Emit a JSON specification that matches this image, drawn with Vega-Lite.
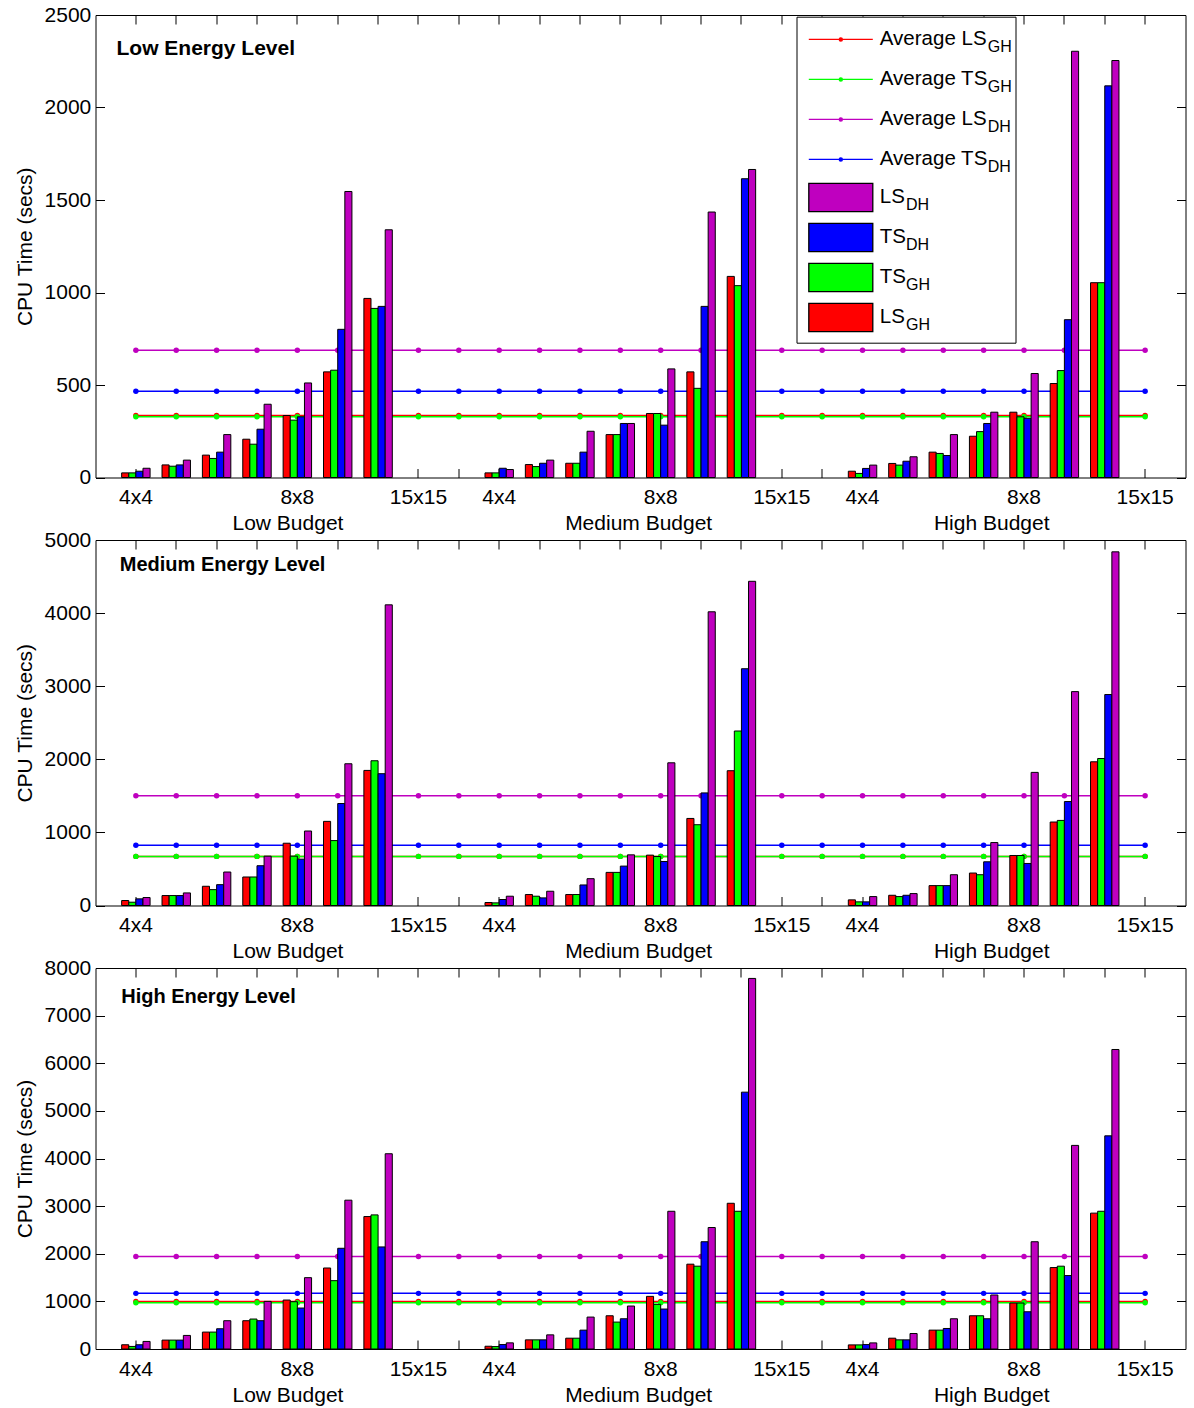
{
"$schema": "https://vega.github.io/schema/vega-lite/v6.json",
"padding": {"left": 13.5, "top": 3, "right": 5, "bottom": 5},
"background": "white",
"config": {"font": "Liberation Sans", "view": {"stroke": "black", "strokeWidth": 1}, "axis": {"grid": false, "domain": false}},
"spacing": 62,
"bounds": "flush",
"resolve": {"scale": {"color": "independent", "shape": "independent", "fill": "independent", "stroke": "independent", "strokeDash": "independent"}, "legend": {"color": "independent", "shape": "independent", "fill": "independent", "stroke": "independent", "strokeDash": "independent"}},
"datasets": {
"bars": [
{"level":"Low","pos":1,"series":"LS_GH","secs":25},{"level":"Low","pos":1,"series":"TS_GH","secs":25},{"level":"Low","pos":1,"series":"TS_DH","secs":34},{"level":"Low","pos":1,"series":"LS_DH","secs":50},
{"level":"Low","pos":2,"series":"LS_GH","secs":68},{"level":"Low","pos":2,"series":"TS_GH","secs":61},{"level":"Low","pos":2,"series":"TS_DH","secs":68},{"level":"Low","pos":2,"series":"LS_DH","secs":94},
{"level":"Low","pos":3,"series":"LS_GH","secs":121},{"level":"Low","pos":3,"series":"TS_GH","secs":103},{"level":"Low","pos":3,"series":"TS_DH","secs":137},{"level":"Low","pos":3,"series":"LS_DH","secs":232},
{"level":"Low","pos":4,"series":"LS_GH","secs":207},{"level":"Low","pos":4,"series":"TS_GH","secs":180},{"level":"Low","pos":4,"series":"TS_DH","secs":261},{"level":"Low","pos":4,"series":"LS_DH","secs":396},
{"level":"Low","pos":5,"series":"LS_GH","secs":335},{"level":"Low","pos":5,"series":"TS_GH","secs":310},{"level":"Low","pos":5,"series":"TS_DH","secs":328},{"level":"Low","pos":5,"series":"LS_DH","secs":511},
{"level":"Low","pos":6,"series":"LS_GH","secs":571},{"level":"Low","pos":6,"series":"TS_GH","secs":580},{"level":"Low","pos":6,"series":"TS_DH","secs":801},{"level":"Low","pos":6,"series":"LS_DH","secs":1546},
{"level":"Low","pos":7,"series":"LS_GH","secs":968},{"level":"Low","pos":7,"series":"TS_GH","secs":914},{"level":"Low","pos":7,"series":"TS_DH","secs":925},{"level":"Low","pos":7,"series":"LS_DH","secs":1339},
{"level":"Low","pos":10,"series":"LS_GH","secs":25},{"level":"Low","pos":10,"series":"TS_GH","secs":25},{"level":"Low","pos":10,"series":"TS_DH","secs":50},{"level":"Low","pos":10,"series":"LS_DH","secs":43},
{"level":"Low","pos":11,"series":"LS_GH","secs":70},{"level":"Low","pos":11,"series":"TS_GH","secs":59},{"level":"Low","pos":11,"series":"TS_DH","secs":77},{"level":"Low","pos":11,"series":"LS_DH","secs":94},
{"level":"Low","pos":12,"series":"LS_GH","secs":77},{"level":"Low","pos":12,"series":"TS_GH","secs":77},{"level":"Low","pos":12,"series":"TS_DH","secs":137},{"level":"Low","pos":12,"series":"LS_DH","secs":250},
{"level":"Low","pos":13,"series":"LS_GH","secs":232},{"level":"Low","pos":13,"series":"TS_GH","secs":232},{"level":"Low","pos":13,"series":"TS_DH","secs":292},{"level":"Low","pos":13,"series":"LS_DH","secs":292},
{"level":"Low","pos":14,"series":"LS_GH","secs":346},{"level":"Low","pos":14,"series":"TS_GH","secs":346},{"level":"Low","pos":14,"series":"TS_DH","secs":283},{"level":"Low","pos":14,"series":"LS_DH","secs":587},
{"level":"Low","pos":15,"series":"LS_GH","secs":571},{"level":"Low","pos":15,"series":"TS_GH","secs":482},{"level":"Low","pos":15,"series":"TS_DH","secs":925},{"level":"Low","pos":15,"series":"LS_DH","secs":1435},
{"level":"Low","pos":16,"series":"LS_GH","secs":1087},{"level":"Low","pos":16,"series":"TS_GH","secs":1037},{"level":"Low","pos":16,"series":"TS_DH","secs":1615},{"level":"Low","pos":16,"series":"LS_DH","secs":1665},
{"level":"Low","pos":19,"series":"LS_GH","secs":34},{"level":"Low","pos":19,"series":"TS_GH","secs":22},{"level":"Low","pos":19,"series":"TS_DH","secs":49},{"level":"Low","pos":19,"series":"LS_DH","secs":67},
{"level":"Low","pos":20,"series":"LS_GH","secs":76},{"level":"Low","pos":20,"series":"TS_GH","secs":67},{"level":"Low","pos":20,"series":"TS_DH","secs":88},{"level":"Low","pos":20,"series":"LS_DH","secs":112},
{"level":"Low","pos":21,"series":"LS_GH","secs":137},{"level":"Low","pos":21,"series":"TS_GH","secs":130},{"level":"Low","pos":21,"series":"TS_DH","secs":119},{"level":"Low","pos":21,"series":"LS_DH","secs":232},
{"level":"Low","pos":22,"series":"LS_GH","secs":223},{"level":"Low","pos":22,"series":"TS_GH","secs":248},{"level":"Low","pos":22,"series":"TS_DH","secs":292},{"level":"Low","pos":22,"series":"LS_DH","secs":353},
{"level":"Low","pos":23,"series":"LS_GH","secs":353},{"level":"Low","pos":23,"series":"TS_GH","secs":328},{"level":"Low","pos":23,"series":"TS_DH","secs":320},{"level":"Low","pos":23,"series":"LS_DH","secs":562},
{"level":"Low","pos":24,"series":"LS_GH","secs":508},{"level":"Low","pos":24,"series":"TS_GH","secs":578},{"level":"Low","pos":24,"series":"TS_DH","secs":853},{"level":"Low","pos":24,"series":"LS_DH","secs":2304},
{"level":"Low","pos":25,"series":"LS_GH","secs":1053},{"level":"Low","pos":25,"series":"TS_GH","secs":1053},{"level":"Low","pos":25,"series":"TS_DH","secs":2117},{"level":"Low","pos":25,"series":"LS_DH","secs":2254},
{"level":"Medium","pos":1,"series":"LS_GH","secs":68},{"level":"Medium","pos":1,"series":"TS_GH","secs":45},{"level":"Medium","pos":1,"series":"TS_DH","secs":91},{"level":"Medium","pos":1,"series":"LS_DH","secs":109},
{"level":"Medium","pos":2,"series":"LS_GH","secs":136},{"level":"Medium","pos":2,"series":"TS_GH","secs":136},{"level":"Medium","pos":2,"series":"TS_DH","secs":136},{"level":"Medium","pos":2,"series":"LS_DH","secs":172},
{"level":"Medium","pos":3,"series":"LS_GH","secs":263},{"level":"Medium","pos":3,"series":"TS_GH","secs":217},{"level":"Medium","pos":3,"series":"TS_DH","secs":285},{"level":"Medium","pos":3,"series":"LS_DH","secs":458},
{"level":"Medium","pos":4,"series":"LS_GH","secs":390},{"level":"Medium","pos":4,"series":"TS_GH","secs":390},{"level":"Medium","pos":4,"series":"TS_DH","secs":544},{"level":"Medium","pos":4,"series":"LS_DH","secs":675},
{"level":"Medium","pos":5,"series":"LS_GH","secs":852},{"level":"Medium","pos":5,"series":"TS_GH","secs":675},{"level":"Medium","pos":5,"series":"TS_DH","secs":634},{"level":"Medium","pos":5,"series":"LS_DH","secs":1019},
{"level":"Medium","pos":6,"series":"LS_GH","secs":1151},{"level":"Medium","pos":6,"series":"TS_GH","secs":888},{"level":"Medium","pos":6,"series":"TS_DH","secs":1395},{"level":"Medium","pos":6,"series":"LS_DH","secs":1939},
{"level":"Medium","pos":7,"series":"LS_GH","secs":1848},{"level":"Medium","pos":7,"series":"TS_GH","secs":1980},{"level":"Medium","pos":7,"series":"TS_DH","secs":1803},{"level":"Medium","pos":7,"series":"LS_DH","secs":4113},
{"level":"Medium","pos":10,"series":"LS_GH","secs":41},{"level":"Medium","pos":10,"series":"TS_GH","secs":36},{"level":"Medium","pos":10,"series":"TS_DH","secs":82},{"level":"Medium","pos":10,"series":"LS_DH","secs":127},
{"level":"Medium","pos":11,"series":"LS_GH","secs":150},{"level":"Medium","pos":11,"series":"TS_GH","secs":127},{"level":"Medium","pos":11,"series":"TS_DH","secs":104},{"level":"Medium","pos":11,"series":"LS_DH","secs":195},
{"level":"Medium","pos":12,"series":"LS_GH","secs":150},{"level":"Medium","pos":12,"series":"TS_GH","secs":150},{"level":"Medium","pos":12,"series":"TS_DH","secs":281},{"level":"Medium","pos":12,"series":"LS_DH","secs":367},
{"level":"Medium","pos":13,"series":"LS_GH","secs":453},{"level":"Medium","pos":13,"series":"TS_GH","secs":453},{"level":"Medium","pos":13,"series":"TS_DH","secs":539},{"level":"Medium","pos":13,"series":"LS_DH","secs":693},
{"level":"Medium","pos":14,"series":"LS_GH","secs":689},{"level":"Medium","pos":14,"series":"TS_GH","secs":670},{"level":"Medium","pos":14,"series":"TS_DH","secs":602},{"level":"Medium","pos":14,"series":"LS_DH","secs":1952},
{"level":"Medium","pos":15,"series":"LS_GH","secs":1191},{"level":"Medium","pos":15,"series":"TS_GH","secs":1105},{"level":"Medium","pos":15,"series":"TS_DH","secs":1540},{"level":"Medium","pos":15,"series":"LS_DH","secs":4018},
{"level":"Medium","pos":16,"series":"LS_GH","secs":1844},{"level":"Medium","pos":16,"series":"TS_GH","secs":2387},{"level":"Medium","pos":16,"series":"TS_DH","secs":3239},{"level":"Medium","pos":16,"series":"LS_DH","secs":4435},
{"level":"Medium","pos":19,"series":"LS_GH","secs":77},{"level":"Medium","pos":19,"series":"TS_GH","secs":50},{"level":"Medium","pos":19,"series":"TS_DH","secs":50},{"level":"Medium","pos":19,"series":"LS_DH","secs":122},
{"level":"Medium","pos":20,"series":"LS_GH","secs":140},{"level":"Medium","pos":20,"series":"TS_GH","secs":122},{"level":"Medium","pos":20,"series":"TS_DH","secs":140},{"level":"Medium","pos":20,"series":"LS_DH","secs":163},
{"level":"Medium","pos":21,"series":"LS_GH","secs":272},{"level":"Medium","pos":21,"series":"TS_GH","secs":272},{"level":"Medium","pos":21,"series":"TS_DH","secs":272},{"level":"Medium","pos":21,"series":"LS_DH","secs":421},
{"level":"Medium","pos":22,"series":"LS_GH","secs":444},{"level":"Medium","pos":22,"series":"TS_GH","secs":421},{"level":"Medium","pos":22,"series":"TS_DH","secs":598},{"level":"Medium","pos":22,"series":"LS_DH","secs":861},
{"level":"Medium","pos":23,"series":"LS_GH","secs":684},{"level":"Medium","pos":23,"series":"TS_GH","secs":684},{"level":"Medium","pos":23,"series":"TS_DH","secs":575},{"level":"Medium","pos":23,"series":"LS_DH","secs":1821},
{"level":"Medium","pos":24,"series":"LS_GH","secs":1142},{"level":"Medium","pos":24,"series":"TS_GH","secs":1164},{"level":"Medium","pos":24,"series":"TS_DH","secs":1422},{"level":"Medium","pos":24,"series":"LS_DH","secs":2926},
{"level":"Medium","pos":25,"series":"LS_GH","secs":1966},{"level":"Medium","pos":25,"series":"TS_GH","secs":2011},{"level":"Medium","pos":25,"series":"TS_DH","secs":2886},{"level":"Medium","pos":25,"series":"LS_DH","secs":4838},
{"level":"High","pos":1,"series":"LS_GH","secs":89},{"level":"High","pos":1,"series":"TS_GH","secs":54},{"level":"High","pos":1,"series":"TS_DH","secs":89},{"level":"High","pos":1,"series":"LS_DH","secs":159},
{"level":"High","pos":2,"series":"LS_GH","secs":187},{"level":"High","pos":2,"series":"TS_GH","secs":187},{"level":"High","pos":2,"series":"TS_DH","secs":187},{"level":"High","pos":2,"series":"LS_DH","secs":285},
{"level":"High","pos":3,"series":"LS_GH","secs":355},{"level":"High","pos":3,"series":"TS_GH","secs":355},{"level":"High","pos":3,"series":"TS_DH","secs":425},{"level":"High","pos":3,"series":"LS_DH","secs":594},
{"level":"High","pos":4,"series":"LS_GH","secs":594},{"level":"High","pos":4,"series":"TS_GH","secs":629},{"level":"High","pos":4,"series":"TS_DH","secs":594},{"level":"High","pos":4,"series":"LS_DH","secs":1000},
{"level":"High","pos":5,"series":"LS_GH","secs":1028},{"level":"High","pos":5,"series":"TS_GH","secs":993},{"level":"High","pos":5,"series":"TS_DH","secs":860},{"level":"High","pos":5,"series":"LS_DH","secs":1498},
{"level":"High","pos":6,"series":"LS_GH","secs":1701},{"level":"High","pos":6,"series":"TS_GH","secs":1435},{"level":"High","pos":6,"series":"TS_DH","secs":2115},{"level":"High","pos":6,"series":"LS_DH","secs":3125},
{"level":"High","pos":7,"series":"LS_GH","secs":2781},{"level":"High","pos":7,"series":"TS_GH","secs":2816},{"level":"High","pos":7,"series":"TS_DH","secs":2143},{"level":"High","pos":7,"series":"LS_DH","secs":4100},
{"level":"High","pos":10,"series":"LS_GH","secs":58},{"level":"High","pos":10,"series":"TS_GH","secs":51},{"level":"High","pos":10,"series":"TS_DH","secs":93},{"level":"High","pos":10,"series":"LS_DH","secs":129},
{"level":"High","pos":11,"series":"LS_GH","secs":192},{"level":"High","pos":11,"series":"TS_GH","secs":192},{"level":"High","pos":11,"series":"TS_DH","secs":192},{"level":"High","pos":11,"series":"LS_DH","secs":297},
{"level":"High","pos":12,"series":"LS_GH","secs":227},{"level":"High","pos":12,"series":"TS_GH","secs":227},{"level":"High","pos":12,"series":"TS_DH","secs":396},{"level":"High","pos":12,"series":"LS_DH","secs":670},
{"level":"High","pos":13,"series":"LS_GH","secs":698},{"level":"High","pos":13,"series":"TS_GH","secs":565},{"level":"High","pos":13,"series":"TS_DH","secs":635},{"level":"High","pos":13,"series":"LS_DH","secs":902},
{"level":"High","pos":14,"series":"LS_GH","secs":1105},{"level":"High","pos":14,"series":"TS_GH","secs":937},{"level":"High","pos":14,"series":"TS_DH","secs":839},{"level":"High","pos":14,"series":"LS_DH","secs":2892},
{"level":"High","pos":15,"series":"LS_GH","secs":1781},{"level":"High","pos":15,"series":"TS_GH","secs":1739},{"level":"High","pos":15,"series":"TS_DH","secs":2252},{"level":"High","pos":15,"series":"LS_DH","secs":2551},
{"level":"High","pos":16,"series":"LS_GH","secs":3060},{"level":"High","pos":16,"series":"TS_GH","secs":2892},{"level":"High","pos":16,"series":"TS_DH","secs":5393},{"level":"High","pos":16,"series":"LS_DH","secs":7781},
{"level":"High","pos":19,"series":"LS_GH","secs":86},{"level":"High","pos":19,"series":"TS_GH","secs":86},{"level":"High","pos":19,"series":"TS_DH","secs":93},{"level":"High","pos":19,"series":"LS_DH","secs":128},
{"level":"High","pos":20,"series":"LS_GH","secs":227},{"level":"High","pos":20,"series":"TS_GH","secs":192},{"level":"High","pos":20,"series":"TS_DH","secs":192},{"level":"High","pos":20,"series":"LS_DH","secs":325},
{"level":"High","pos":21,"series":"LS_GH","secs":396},{"level":"High","pos":21,"series":"TS_GH","secs":396},{"level":"High","pos":21,"series":"TS_DH","secs":431},{"level":"High","pos":21,"series":"LS_DH","secs":635},
{"level":"High","pos":22,"series":"LS_GH","secs":698},{"level":"High","pos":22,"series":"TS_GH","secs":698},{"level":"High","pos":22,"series":"TS_DH","secs":635},{"level":"High","pos":22,"series":"LS_DH","secs":1134},
{"level":"High","pos":23,"series":"LS_GH","secs":965},{"level":"High","pos":23,"series":"TS_GH","secs":965},{"level":"High","pos":23,"series":"TS_DH","secs":782},{"level":"High","pos":23,"series":"LS_DH","secs":2252},
{"level":"High","pos":24,"series":"LS_GH","secs":1710},{"level":"High","pos":24,"series":"TS_GH","secs":1739},{"level":"High","pos":24,"series":"TS_DH","secs":1542},{"level":"High","pos":24,"series":"LS_DH","secs":4275},
{"level":"High","pos":25,"series":"LS_GH","secs":2853},{"level":"High","pos":25,"series":"TS_GH","secs":2892},{"level":"High","pos":25,"series":"TS_DH","secs":4476},{"level":"High","pos":25,"series":"LS_DH","secs":6289}
],
"avg": [
{"level":"Low","pos":1,"series":"Average LS_GH","secs":335},{"level":"Low","pos":2,"series":"Average LS_GH","secs":335},{"level":"Low","pos":3,"series":"Average LS_GH","secs":335},{"level":"Low","pos":4,"series":"Average LS_GH","secs":335},{"level":"Low","pos":5,"series":"Average LS_GH","secs":335},{"level":"Low","pos":6,"series":"Average LS_GH","secs":335},{"level":"Low","pos":7,"series":"Average LS_GH","secs":335},{"level":"Low","pos":8,"series":"Average LS_GH","secs":335},{"level":"Low","pos":9,"series":"Average LS_GH","secs":335},{"level":"Low","pos":10,"series":"Average LS_GH","secs":335},{"level":"Low","pos":11,"series":"Average LS_GH","secs":335},{"level":"Low","pos":12,"series":"Average LS_GH","secs":335},{"level":"Low","pos":13,"series":"Average LS_GH","secs":335},{"level":"Low","pos":14,"series":"Average LS_GH","secs":335},{"level":"Low","pos":15,"series":"Average LS_GH","secs":335},{"level":"Low","pos":16,"series":"Average LS_GH","secs":335},{"level":"Low","pos":17,"series":"Average LS_GH","secs":335},{"level":"Low","pos":18,"series":"Average LS_GH","secs":335},{"level":"Low","pos":19,"series":"Average LS_GH","secs":335},{"level":"Low","pos":20,"series":"Average LS_GH","secs":335},{"level":"Low","pos":21,"series":"Average LS_GH","secs":335},{"level":"Low","pos":22,"series":"Average LS_GH","secs":335},{"level":"Low","pos":23,"series":"Average LS_GH","secs":335},{"level":"Low","pos":24,"series":"Average LS_GH","secs":335},{"level":"Low","pos":25,"series":"Average LS_GH","secs":335},{"level":"Low","pos":26,"series":"Average LS_GH","secs":335},
{"level":"Low","pos":1,"series":"Average TS_GH","secs":328},{"level":"Low","pos":2,"series":"Average TS_GH","secs":328},{"level":"Low","pos":3,"series":"Average TS_GH","secs":328},{"level":"Low","pos":4,"series":"Average TS_GH","secs":328},{"level":"Low","pos":5,"series":"Average TS_GH","secs":328},{"level":"Low","pos":6,"series":"Average TS_GH","secs":328},{"level":"Low","pos":7,"series":"Average TS_GH","secs":328},{"level":"Low","pos":8,"series":"Average TS_GH","secs":328},{"level":"Low","pos":9,"series":"Average TS_GH","secs":328},{"level":"Low","pos":10,"series":"Average TS_GH","secs":328},{"level":"Low","pos":11,"series":"Average TS_GH","secs":328},{"level":"Low","pos":12,"series":"Average TS_GH","secs":328},{"level":"Low","pos":13,"series":"Average TS_GH","secs":328},{"level":"Low","pos":14,"series":"Average TS_GH","secs":328},{"level":"Low","pos":15,"series":"Average TS_GH","secs":328},{"level":"Low","pos":16,"series":"Average TS_GH","secs":328},{"level":"Low","pos":17,"series":"Average TS_GH","secs":328},{"level":"Low","pos":18,"series":"Average TS_GH","secs":328},{"level":"Low","pos":19,"series":"Average TS_GH","secs":328},{"level":"Low","pos":20,"series":"Average TS_GH","secs":328},{"level":"Low","pos":21,"series":"Average TS_GH","secs":328},{"level":"Low","pos":22,"series":"Average TS_GH","secs":328},{"level":"Low","pos":23,"series":"Average TS_GH","secs":328},{"level":"Low","pos":24,"series":"Average TS_GH","secs":328},{"level":"Low","pos":25,"series":"Average TS_GH","secs":328},{"level":"Low","pos":26,"series":"Average TS_GH","secs":328},
{"level":"Low","pos":1,"series":"Average LS_DH","secs":688},{"level":"Low","pos":2,"series":"Average LS_DH","secs":688},{"level":"Low","pos":3,"series":"Average LS_DH","secs":688},{"level":"Low","pos":4,"series":"Average LS_DH","secs":688},{"level":"Low","pos":5,"series":"Average LS_DH","secs":688},{"level":"Low","pos":6,"series":"Average LS_DH","secs":688},{"level":"Low","pos":7,"series":"Average LS_DH","secs":688},{"level":"Low","pos":8,"series":"Average LS_DH","secs":688},{"level":"Low","pos":9,"series":"Average LS_DH","secs":688},{"level":"Low","pos":10,"series":"Average LS_DH","secs":688},{"level":"Low","pos":11,"series":"Average LS_DH","secs":688},{"level":"Low","pos":12,"series":"Average LS_DH","secs":688},{"level":"Low","pos":13,"series":"Average LS_DH","secs":688},{"level":"Low","pos":14,"series":"Average LS_DH","secs":688},{"level":"Low","pos":15,"series":"Average LS_DH","secs":688},{"level":"Low","pos":16,"series":"Average LS_DH","secs":688},{"level":"Low","pos":17,"series":"Average LS_DH","secs":688},{"level":"Low","pos":18,"series":"Average LS_DH","secs":688},{"level":"Low","pos":19,"series":"Average LS_DH","secs":688},{"level":"Low","pos":20,"series":"Average LS_DH","secs":688},{"level":"Low","pos":21,"series":"Average LS_DH","secs":688},{"level":"Low","pos":22,"series":"Average LS_DH","secs":688},{"level":"Low","pos":23,"series":"Average LS_DH","secs":688},{"level":"Low","pos":24,"series":"Average LS_DH","secs":688},{"level":"Low","pos":25,"series":"Average LS_DH","secs":688},{"level":"Low","pos":26,"series":"Average LS_DH","secs":688},
{"level":"Low","pos":1,"series":"Average TS_DH","secs":466},{"level":"Low","pos":2,"series":"Average TS_DH","secs":466},{"level":"Low","pos":3,"series":"Average TS_DH","secs":466},{"level":"Low","pos":4,"series":"Average TS_DH","secs":466},{"level":"Low","pos":5,"series":"Average TS_DH","secs":466},{"level":"Low","pos":6,"series":"Average TS_DH","secs":466},{"level":"Low","pos":7,"series":"Average TS_DH","secs":466},{"level":"Low","pos":8,"series":"Average TS_DH","secs":466},{"level":"Low","pos":9,"series":"Average TS_DH","secs":466},{"level":"Low","pos":10,"series":"Average TS_DH","secs":466},{"level":"Low","pos":11,"series":"Average TS_DH","secs":466},{"level":"Low","pos":12,"series":"Average TS_DH","secs":466},{"level":"Low","pos":13,"series":"Average TS_DH","secs":466},{"level":"Low","pos":14,"series":"Average TS_DH","secs":466},{"level":"Low","pos":15,"series":"Average TS_DH","secs":466},{"level":"Low","pos":16,"series":"Average TS_DH","secs":466},{"level":"Low","pos":17,"series":"Average TS_DH","secs":466},{"level":"Low","pos":18,"series":"Average TS_DH","secs":466},{"level":"Low","pos":19,"series":"Average TS_DH","secs":466},{"level":"Low","pos":20,"series":"Average TS_DH","secs":466},{"level":"Low","pos":21,"series":"Average TS_DH","secs":466},{"level":"Low","pos":22,"series":"Average TS_DH","secs":466},{"level":"Low","pos":23,"series":"Average TS_DH","secs":466},{"level":"Low","pos":24,"series":"Average TS_DH","secs":466},{"level":"Low","pos":25,"series":"Average TS_DH","secs":466},{"level":"Low","pos":26,"series":"Average TS_DH","secs":466},
{"level":"Medium","pos":1,"series":"Average LS_GH","secs":672},{"level":"Medium","pos":2,"series":"Average LS_GH","secs":672},{"level":"Medium","pos":3,"series":"Average LS_GH","secs":672},{"level":"Medium","pos":4,"series":"Average LS_GH","secs":672},{"level":"Medium","pos":5,"series":"Average LS_GH","secs":672},{"level":"Medium","pos":6,"series":"Average LS_GH","secs":672},{"level":"Medium","pos":7,"series":"Average LS_GH","secs":672},{"level":"Medium","pos":8,"series":"Average LS_GH","secs":672},{"level":"Medium","pos":9,"series":"Average LS_GH","secs":672},{"level":"Medium","pos":10,"series":"Average LS_GH","secs":672},{"level":"Medium","pos":11,"series":"Average LS_GH","secs":672},{"level":"Medium","pos":12,"series":"Average LS_GH","secs":672},{"level":"Medium","pos":13,"series":"Average LS_GH","secs":672},{"level":"Medium","pos":14,"series":"Average LS_GH","secs":672},{"level":"Medium","pos":15,"series":"Average LS_GH","secs":672},{"level":"Medium","pos":16,"series":"Average LS_GH","secs":672},{"level":"Medium","pos":17,"series":"Average LS_GH","secs":672},{"level":"Medium","pos":18,"series":"Average LS_GH","secs":672},{"level":"Medium","pos":19,"series":"Average LS_GH","secs":672},{"level":"Medium","pos":20,"series":"Average LS_GH","secs":672},{"level":"Medium","pos":21,"series":"Average LS_GH","secs":672},{"level":"Medium","pos":22,"series":"Average LS_GH","secs":672},{"level":"Medium","pos":23,"series":"Average LS_GH","secs":672},{"level":"Medium","pos":24,"series":"Average LS_GH","secs":672},{"level":"Medium","pos":25,"series":"Average LS_GH","secs":672},{"level":"Medium","pos":26,"series":"Average LS_GH","secs":672},
{"level":"Medium","pos":1,"series":"Average TS_GH","secs":672},{"level":"Medium","pos":2,"series":"Average TS_GH","secs":672},{"level":"Medium","pos":3,"series":"Average TS_GH","secs":672},{"level":"Medium","pos":4,"series":"Average TS_GH","secs":672},{"level":"Medium","pos":5,"series":"Average TS_GH","secs":672},{"level":"Medium","pos":6,"series":"Average TS_GH","secs":672},{"level":"Medium","pos":7,"series":"Average TS_GH","secs":672},{"level":"Medium","pos":8,"series":"Average TS_GH","secs":672},{"level":"Medium","pos":9,"series":"Average TS_GH","secs":672},{"level":"Medium","pos":10,"series":"Average TS_GH","secs":672},{"level":"Medium","pos":11,"series":"Average TS_GH","secs":672},{"level":"Medium","pos":12,"series":"Average TS_GH","secs":672},{"level":"Medium","pos":13,"series":"Average TS_GH","secs":672},{"level":"Medium","pos":14,"series":"Average TS_GH","secs":672},{"level":"Medium","pos":15,"series":"Average TS_GH","secs":672},{"level":"Medium","pos":16,"series":"Average TS_GH","secs":672},{"level":"Medium","pos":17,"series":"Average TS_GH","secs":672},{"level":"Medium","pos":18,"series":"Average TS_GH","secs":672},{"level":"Medium","pos":19,"series":"Average TS_GH","secs":672},{"level":"Medium","pos":20,"series":"Average TS_GH","secs":672},{"level":"Medium","pos":21,"series":"Average TS_GH","secs":672},{"level":"Medium","pos":22,"series":"Average TS_GH","secs":672},{"level":"Medium","pos":23,"series":"Average TS_GH","secs":672},{"level":"Medium","pos":24,"series":"Average TS_GH","secs":672},{"level":"Medium","pos":25,"series":"Average TS_GH","secs":672},{"level":"Medium","pos":26,"series":"Average TS_GH","secs":672},
{"level":"Medium","pos":1,"series":"Average LS_DH","secs":1500},{"level":"Medium","pos":2,"series":"Average LS_DH","secs":1500},{"level":"Medium","pos":3,"series":"Average LS_DH","secs":1500},{"level":"Medium","pos":4,"series":"Average LS_DH","secs":1500},{"level":"Medium","pos":5,"series":"Average LS_DH","secs":1500},{"level":"Medium","pos":6,"series":"Average LS_DH","secs":1500},{"level":"Medium","pos":7,"series":"Average LS_DH","secs":1500},{"level":"Medium","pos":8,"series":"Average LS_DH","secs":1500},{"level":"Medium","pos":9,"series":"Average LS_DH","secs":1500},{"level":"Medium","pos":10,"series":"Average LS_DH","secs":1500},{"level":"Medium","pos":11,"series":"Average LS_DH","secs":1500},{"level":"Medium","pos":12,"series":"Average LS_DH","secs":1500},{"level":"Medium","pos":13,"series":"Average LS_DH","secs":1500},{"level":"Medium","pos":14,"series":"Average LS_DH","secs":1500},{"level":"Medium","pos":15,"series":"Average LS_DH","secs":1500},{"level":"Medium","pos":16,"series":"Average LS_DH","secs":1500},{"level":"Medium","pos":17,"series":"Average LS_DH","secs":1500},{"level":"Medium","pos":18,"series":"Average LS_DH","secs":1500},{"level":"Medium","pos":19,"series":"Average LS_DH","secs":1500},{"level":"Medium","pos":20,"series":"Average LS_DH","secs":1500},{"level":"Medium","pos":21,"series":"Average LS_DH","secs":1500},{"level":"Medium","pos":22,"series":"Average LS_DH","secs":1500},{"level":"Medium","pos":23,"series":"Average LS_DH","secs":1500},{"level":"Medium","pos":24,"series":"Average LS_DH","secs":1500},{"level":"Medium","pos":25,"series":"Average LS_DH","secs":1500},{"level":"Medium","pos":26,"series":"Average LS_DH","secs":1500},
{"level":"Medium","pos":1,"series":"Average TS_DH","secs":825},{"level":"Medium","pos":2,"series":"Average TS_DH","secs":825},{"level":"Medium","pos":3,"series":"Average TS_DH","secs":825},{"level":"Medium","pos":4,"series":"Average TS_DH","secs":825},{"level":"Medium","pos":5,"series":"Average TS_DH","secs":825},{"level":"Medium","pos":6,"series":"Average TS_DH","secs":825},{"level":"Medium","pos":7,"series":"Average TS_DH","secs":825},{"level":"Medium","pos":8,"series":"Average TS_DH","secs":825},{"level":"Medium","pos":9,"series":"Average TS_DH","secs":825},{"level":"Medium","pos":10,"series":"Average TS_DH","secs":825},{"level":"Medium","pos":11,"series":"Average TS_DH","secs":825},{"level":"Medium","pos":12,"series":"Average TS_DH","secs":825},{"level":"Medium","pos":13,"series":"Average TS_DH","secs":825},{"level":"Medium","pos":14,"series":"Average TS_DH","secs":825},{"level":"Medium","pos":15,"series":"Average TS_DH","secs":825},{"level":"Medium","pos":16,"series":"Average TS_DH","secs":825},{"level":"Medium","pos":17,"series":"Average TS_DH","secs":825},{"level":"Medium","pos":18,"series":"Average TS_DH","secs":825},{"level":"Medium","pos":19,"series":"Average TS_DH","secs":825},{"level":"Medium","pos":20,"series":"Average TS_DH","secs":825},{"level":"Medium","pos":21,"series":"Average TS_DH","secs":825},{"level":"Medium","pos":22,"series":"Average TS_DH","secs":825},{"level":"Medium","pos":23,"series":"Average TS_DH","secs":825},{"level":"Medium","pos":24,"series":"Average TS_DH","secs":825},{"level":"Medium","pos":25,"series":"Average TS_DH","secs":825},{"level":"Medium","pos":26,"series":"Average TS_DH","secs":825},
{"level":"High","pos":1,"series":"Average LS_GH","secs":1000},{"level":"High","pos":2,"series":"Average LS_GH","secs":1000},{"level":"High","pos":3,"series":"Average LS_GH","secs":1000},{"level":"High","pos":4,"series":"Average LS_GH","secs":1000},{"level":"High","pos":5,"series":"Average LS_GH","secs":1000},{"level":"High","pos":6,"series":"Average LS_GH","secs":1000},{"level":"High","pos":7,"series":"Average LS_GH","secs":1000},{"level":"High","pos":8,"series":"Average LS_GH","secs":1000},{"level":"High","pos":9,"series":"Average LS_GH","secs":1000},{"level":"High","pos":10,"series":"Average LS_GH","secs":1000},{"level":"High","pos":11,"series":"Average LS_GH","secs":1000},{"level":"High","pos":12,"series":"Average LS_GH","secs":1000},{"level":"High","pos":13,"series":"Average LS_GH","secs":1000},{"level":"High","pos":14,"series":"Average LS_GH","secs":1000},{"level":"High","pos":15,"series":"Average LS_GH","secs":1000},{"level":"High","pos":16,"series":"Average LS_GH","secs":1000},{"level":"High","pos":17,"series":"Average LS_GH","secs":1000},{"level":"High","pos":18,"series":"Average LS_GH","secs":1000},{"level":"High","pos":19,"series":"Average LS_GH","secs":1000},{"level":"High","pos":20,"series":"Average LS_GH","secs":1000},{"level":"High","pos":21,"series":"Average LS_GH","secs":1000},{"level":"High","pos":22,"series":"Average LS_GH","secs":1000},{"level":"High","pos":23,"series":"Average LS_GH","secs":1000},{"level":"High","pos":24,"series":"Average LS_GH","secs":1000},{"level":"High","pos":25,"series":"Average LS_GH","secs":1000},{"level":"High","pos":26,"series":"Average LS_GH","secs":1000},
{"level":"High","pos":1,"series":"Average TS_GH","secs":970},{"level":"High","pos":2,"series":"Average TS_GH","secs":970},{"level":"High","pos":3,"series":"Average TS_GH","secs":970},{"level":"High","pos":4,"series":"Average TS_GH","secs":970},{"level":"High","pos":5,"series":"Average TS_GH","secs":970},{"level":"High","pos":6,"series":"Average TS_GH","secs":970},{"level":"High","pos":7,"series":"Average TS_GH","secs":970},{"level":"High","pos":8,"series":"Average TS_GH","secs":970},{"level":"High","pos":9,"series":"Average TS_GH","secs":970},{"level":"High","pos":10,"series":"Average TS_GH","secs":970},{"level":"High","pos":11,"series":"Average TS_GH","secs":970},{"level":"High","pos":12,"series":"Average TS_GH","secs":970},{"level":"High","pos":13,"series":"Average TS_GH","secs":970},{"level":"High","pos":14,"series":"Average TS_GH","secs":970},{"level":"High","pos":15,"series":"Average TS_GH","secs":970},{"level":"High","pos":16,"series":"Average TS_GH","secs":970},{"level":"High","pos":17,"series":"Average TS_GH","secs":970},{"level":"High","pos":18,"series":"Average TS_GH","secs":970},{"level":"High","pos":19,"series":"Average TS_GH","secs":970},{"level":"High","pos":20,"series":"Average TS_GH","secs":970},{"level":"High","pos":21,"series":"Average TS_GH","secs":970},{"level":"High","pos":22,"series":"Average TS_GH","secs":970},{"level":"High","pos":23,"series":"Average TS_GH","secs":970},{"level":"High","pos":24,"series":"Average TS_GH","secs":970},{"level":"High","pos":25,"series":"Average TS_GH","secs":970},{"level":"High","pos":26,"series":"Average TS_GH","secs":970},
{"level":"High","pos":1,"series":"Average LS_DH","secs":1940},{"level":"High","pos":2,"series":"Average LS_DH","secs":1940},{"level":"High","pos":3,"series":"Average LS_DH","secs":1940},{"level":"High","pos":4,"series":"Average LS_DH","secs":1940},{"level":"High","pos":5,"series":"Average LS_DH","secs":1940},{"level":"High","pos":6,"series":"Average LS_DH","secs":1940},{"level":"High","pos":7,"series":"Average LS_DH","secs":1940},{"level":"High","pos":8,"series":"Average LS_DH","secs":1940},{"level":"High","pos":9,"series":"Average LS_DH","secs":1940},{"level":"High","pos":10,"series":"Average LS_DH","secs":1940},{"level":"High","pos":11,"series":"Average LS_DH","secs":1940},{"level":"High","pos":12,"series":"Average LS_DH","secs":1940},{"level":"High","pos":13,"series":"Average LS_DH","secs":1940},{"level":"High","pos":14,"series":"Average LS_DH","secs":1940},{"level":"High","pos":15,"series":"Average LS_DH","secs":1940},{"level":"High","pos":16,"series":"Average LS_DH","secs":1940},{"level":"High","pos":17,"series":"Average LS_DH","secs":1940},{"level":"High","pos":18,"series":"Average LS_DH","secs":1940},{"level":"High","pos":19,"series":"Average LS_DH","secs":1940},{"level":"High","pos":20,"series":"Average LS_DH","secs":1940},{"level":"High","pos":21,"series":"Average LS_DH","secs":1940},{"level":"High","pos":22,"series":"Average LS_DH","secs":1940},{"level":"High","pos":23,"series":"Average LS_DH","secs":1940},{"level":"High","pos":24,"series":"Average LS_DH","secs":1940},{"level":"High","pos":25,"series":"Average LS_DH","secs":1940},{"level":"High","pos":26,"series":"Average LS_DH","secs":1940},
{"level":"High","pos":1,"series":"Average TS_DH","secs":1168},{"level":"High","pos":2,"series":"Average TS_DH","secs":1168},{"level":"High","pos":3,"series":"Average TS_DH","secs":1168},{"level":"High","pos":4,"series":"Average TS_DH","secs":1168},{"level":"High","pos":5,"series":"Average TS_DH","secs":1168},{"level":"High","pos":6,"series":"Average TS_DH","secs":1168},{"level":"High","pos":7,"series":"Average TS_DH","secs":1168},{"level":"High","pos":8,"series":"Average TS_DH","secs":1168},{"level":"High","pos":9,"series":"Average TS_DH","secs":1168},{"level":"High","pos":10,"series":"Average TS_DH","secs":1168},{"level":"High","pos":11,"series":"Average TS_DH","secs":1168},{"level":"High","pos":12,"series":"Average TS_DH","secs":1168},{"level":"High","pos":13,"series":"Average TS_DH","secs":1168},{"level":"High","pos":14,"series":"Average TS_DH","secs":1168},{"level":"High","pos":15,"series":"Average TS_DH","secs":1168},{"level":"High","pos":16,"series":"Average TS_DH","secs":1168},{"level":"High","pos":17,"series":"Average TS_DH","secs":1168},{"level":"High","pos":18,"series":"Average TS_DH","secs":1168},{"level":"High","pos":19,"series":"Average TS_DH","secs":1168},{"level":"High","pos":20,"series":"Average TS_DH","secs":1168},{"level":"High","pos":21,"series":"Average TS_DH","secs":1168},{"level":"High","pos":22,"series":"Average TS_DH","secs":1168},{"level":"High","pos":23,"series":"Average TS_DH","secs":1168},{"level":"High","pos":24,"series":"Average TS_DH","secs":1168},{"level":"High","pos":25,"series":"Average TS_DH","secs":1168},{"level":"High","pos":26,"series":"Average TS_DH","secs":1168}
]
},
"vconcat": [
{
"width": 1090, "height": 462.5,
"title": {"text": "Low Energy Level", "anchor": "start", "frame": "group", "fontSize": 21, "fontWeight": "bold", "color": "black", "baseline": "alphabetic", "offset": -71.6, "dx": 21},
"resolve": {"axis": {"x": "independent", "y": "independent"}},
"layer": [
{"data": {"name": "avg"}, "transform": [{"filter": {"field": "level", "equal": "Low"}}],
 "mark": {"type": "line", "strokeWidth": 1.5},
 "encoding": {
  "x": {"field": "pos", "type": "ordinal", "scale": {"type": "band", "domain": [1,2,3,4,5,6,7,8,9,10,11,12,13,14,15,16,17,18,19,20,21,22,23,24,25,26], "paddingInner": 0, "paddingOuter": 0.5},
   "axis": {"orient": "bottom", "values": [1,2,3,4,5,6,7,8,9,10,11,12,13,14,15,16,17,18,19,20,21,22,23,24,25,26], "bandPosition": 0.5, "labelExpr": "indexof([1,10,19], datum.value) >= 0 ? '4x4' : indexof([5,14,23], datum.value) >= 0 ? '8x8' : indexof([8,17,26], datum.value) >= 0 ? '15x15' : ''", "labelFontSize": 21, "labelColor": "black", "labelBaseline": "alphabetic", "labelPadding": 35, "labelOverlap": false, "labelAngle": 0, "tickSize": -9, "tickColor": "black", "tickWidth": 1, "title": "Low Budget\u00a0\u00a0\u00a0\u00a0\u00a0\u00a0\u00a0\u00a0\u00a0\u00a0\u00a0\u00a0\u00a0\u00a0\u00a0\u00a0\u00a0\u00a0\u00a0\u00a0\u00a0\u00a0\u00a0\u00a0\u00a0\u00a0\u00a0\u00a0\u00a0\u00a0\u00a0\u00a0\u00a0\u00a0\u00a0\u00a0\u00a0\u00a0Medium Budget\u00a0\u00a0\u00a0\u00a0\u00a0\u00a0\u00a0\u00a0\u00a0\u00a0\u00a0\u00a0\u00a0\u00a0\u00a0\u00a0\u00a0\u00a0\u00a0\u00a0\u00a0\u00a0\u00a0\u00a0\u00a0\u00a0\u00a0\u00a0\u00a0\u00a0\u00a0\u00a0\u00a0\u00a0\u00a0\u00a0\u00a0\u00a0High Budget", "titleFontSize": 21, "titleFontWeight": "normal", "titleColor": "black", "titlePadding": 5}},
  "y": {"field": "secs", "type": "quantitative", "scale": {"domain": [0, 2500], "nice": false},
   "axis": {"orient": "left", "values": [0,500,1000,1500,2000,2500], "format": "d", "labelFontSize": 21, "labelColor": "black", "labelPadding": 13.7, "tickSize": -9, "tickColor": "black", "title": "CPU Time (secs)", "titleFontSize": 21, "titleFontWeight": "normal", "titleColor": "black", "titlePadding": 9}},
  "stroke": {"field": "series", "type": "nominal",
   "scale": {"domain": ["Average LS_GH","Average TS_GH","Average LS_DH","Average TS_DH"], "range": ["#ff0000","#00ff00","#bf00bf","#0000ff"]},
   "legend": {"title": null, "orient": "none", "legendX": 701, "legendY": 1.7, "direction": "vertical", "padding": 3, "fillColor": "white", "rowPadding": 0, "clipHeight": 39.5,
    "symbolType": "M-1,0L1,0M-0.05,0A0.05,0.05,0,1,1,0.05,0A0.05,0.05,0,1,1,-0.05,0Z", "symbolSize": 4096, "symbolOffset": 8.3, "symbolStrokeWidth": 1.3, "labelOffset": 6, "labelFontSize": 20.5, "labelColor": "black", "labelBaseline": "middle",
    "labelExpr": "split(datum.label, '_')[0]"}},
  "strokeDash": {"field": "series", "type": "nominal",
   "scale": {"domain": ["TS_GH","LS_GH","TS_DH","LS_DH","Average LS_GH","Average TS_GH","Average LS_DH","Average TS_DH"], "range": [[1,0],[1,0],[1,0],[1,0],[1,0],[1,0],[1,0],[1,0]]},
   "legend": {"title": null, "orient": "none", "legendX": 701, "legendY": 159.7, "direction": "vertical", "padding": 3, "rowPadding": 0, "clipHeight": 39.5,
    "symbolSize": 4096, "symbolOffset": 8.3, "symbolStrokeWidth": 1.3, "symbolOpacity": 0, "labelOffset": 32.2, "labelFontSize": 16, "labelColor": "black", "labelBaseline": "top",
    "values": ["LS_DH","TS_DH","TS_GH","LS_GH"],
    "labelExpr": "split(datum.label, '_')[1]"}}
 }},
{"data": {"name": "avg"}, "transform": [{"filter": {"field": "level", "equal": "Low"}}],
 "mark": {"type": "point", "filled": true, "size": 30, "opacity": 1},
 "encoding": {
  "x": {"field": "pos", "type": "ordinal", "axis": null},
  "y": {"field": "secs", "type": "quantitative", "axis": null},
  "color": {"field": "series", "type": "nominal", "scale": {"domain": ["Average LS_GH","Average TS_GH","Average LS_DH","Average TS_DH"], "range": ["#ff0000","#00ff00","#bf00bf","#0000ff"]}, "legend": null},
  "shape": {"field": "series", "type": "nominal",
   "scale": {"domain": ["LS_GH","TS_GH","TS_DH","LS_DH","Average LS_GH","Average TS_GH","Average LS_DH","Average TS_DH"], "range": ["circle","circle","circle","circle","circle","circle","circle","circle"]},
   "legend": {"title": null, "orient": "none", "legendX": 701, "legendY": 1.7, "direction": "vertical", "padding": 3, "strokeColor": "black", "rowPadding": 0, "clipHeight": 39.5,
    "symbolSize": 4096, "symbolOffset": 8.3, "symbolStrokeWidth": 1.3, "symbolOpacity": 0, "labelOffset": 114, "labelFontSize": 16, "labelColor": "black", "labelBaseline": "top",
    "values": ["Average LS_GH","Average TS_GH","Average LS_DH","Average TS_DH","LS_DH","TS_DH","TS_GH","LS_GH"],
    "labelExpr": "length(datum.label) > 6 ? split(datum.label, '_')[1] : ''"
   }}
 }},
{"data": {"name": "bars"}, "transform": [{"filter": {"field": "level", "equal": "Low"}}],
 "mark": {"type": "bar", "stroke": "black", "strokeWidth": 1},
 "encoding": {
  "x": {"field": "pos", "type": "ordinal", "axis": {"orient": "top", "values": [1,2,3,4,5,6,7,8,9,10,11,12,13,14,15,16,17,18,19,20,21,22,23,24,25,26], "bandPosition": 0.5, "labels": false, "tickSize": -9, "tickColor": "black", "title": null}},
  "xOffset": {"field": "series", "type": "nominal", "scale": {"domain": ["LS_GH","TS_GH","TS_DH","LS_DH"], "paddingInner": 0, "paddingOuter": 0.84}},
  "y": {"field": "secs", "type": "quantitative", "axis": {"orient": "right", "values": [0,500,1000,1500,2000,2500], "labels": false, "tickSize": -9, "tickColor": "black", "title": null}},
  "fill": {"field": "series", "type": "nominal",
   "scale": {"domain": ["LS_DH","TS_DH","TS_GH","LS_GH"], "range": ["#bf00bf","#0000ff","#00ff00","#ff0000"]},
   "legend": {"title": null, "orient": "none", "legendX": 701, "legendY": 159.7, "direction": "vertical", "padding": 3, "rowPadding": 0, "clipHeight": 39.5,
    "symbolType": "M-1,-0.44L1,-0.44L1,0.44L-1,0.44Z", "symbolSize": 4096, "symbolOffset": 8.3, "symbolStrokeWidth": 1.3, "symbolStrokeColor": "black", "symbolOpacity": 1, "labelOffset": 6, "labelFontSize": 20.5, "labelColor": "black", "labelBaseline": "middle",
    "labelExpr": "split(datum.label, '_')[0]"}}
 }}
]
},
{
"width": 1090, "height": 365.5,
"title": {"text": "Medium Energy Level", "anchor": "start", "frame": "group", "fontSize": 20, "fontWeight": "bold", "color": "black", "baseline": "alphabetic", "offset": -61.9, "dx": 24.3},
"resolve": {"axis": {"x": "independent", "y": "independent"}},
"layer": [
{"data": {"name": "avg"}, "transform": [{"filter": {"field": "level", "equal": "Medium"}}],
 "mark": {"type": "line", "strokeWidth": 1.5},
 "encoding": {
  "x": {"field": "pos", "type": "ordinal", "scale": {"type": "band", "domain": [1,2,3,4,5,6,7,8,9,10,11,12,13,14,15,16,17,18,19,20,21,22,23,24,25,26], "paddingInner": 0, "paddingOuter": 0.5},
   "axis": {"orient": "bottom", "values": [1,2,3,4,5,6,7,8,9,10,11,12,13,14,15,16,17,18,19,20,21,22,23,24,25,26], "bandPosition": 0.5, "labelExpr": "indexof([1,10,19], datum.value) >= 0 ? '4x4' : indexof([5,14,23], datum.value) >= 0 ? '8x8' : indexof([8,17,26], datum.value) >= 0 ? '15x15' : ''", "labelFontSize": 21, "labelColor": "black", "labelBaseline": "alphabetic", "labelPadding": 35, "labelOverlap": false, "labelAngle": 0, "tickSize": -9, "tickColor": "black", "tickWidth": 1, "title": "Low Budget\u00a0\u00a0\u00a0\u00a0\u00a0\u00a0\u00a0\u00a0\u00a0\u00a0\u00a0\u00a0\u00a0\u00a0\u00a0\u00a0\u00a0\u00a0\u00a0\u00a0\u00a0\u00a0\u00a0\u00a0\u00a0\u00a0\u00a0\u00a0\u00a0\u00a0\u00a0\u00a0\u00a0\u00a0\u00a0\u00a0\u00a0\u00a0Medium Budget\u00a0\u00a0\u00a0\u00a0\u00a0\u00a0\u00a0\u00a0\u00a0\u00a0\u00a0\u00a0\u00a0\u00a0\u00a0\u00a0\u00a0\u00a0\u00a0\u00a0\u00a0\u00a0\u00a0\u00a0\u00a0\u00a0\u00a0\u00a0\u00a0\u00a0\u00a0\u00a0\u00a0\u00a0\u00a0\u00a0\u00a0\u00a0High Budget", "titleFontSize": 21, "titleFontWeight": "normal", "titleColor": "black", "titlePadding": 5}},
  "y": {"field": "secs", "type": "quantitative", "scale": {"domain": [0, 5000], "nice": false},
   "axis": {"orient": "left", "values": [0,1000,2000,3000,4000,5000], "format": "d", "labelFontSize": 21, "labelColor": "black", "labelPadding": 13.7, "tickSize": -9, "tickColor": "black", "title": "CPU Time (secs)", "titleFontSize": 21, "titleFontWeight": "normal", "titleColor": "black", "titlePadding": 9}},
  "color": {"field": "series", "type": "nominal",
   "scale": {"domain": ["Average LS_GH","Average TS_GH","Average LS_DH","Average TS_DH","LS_DH","TS_DH","TS_GH","LS_GH"], "range": ["#ff0000","#00ff00","#bf00bf","#0000ff","#bf00bf","#0000ff","#00ff00","#ff0000"]},
   "legend": null}
 }},
{"data": {"name": "avg"}, "transform": [{"filter": {"field": "level", "equal": "Medium"}}],
 "mark": {"type": "point", "filled": true, "size": 30, "opacity": 1, "shape": "circle"},
 "encoding": {
  "x": {"field": "pos", "type": "ordinal", "axis": null},
  "y": {"field": "secs", "type": "quantitative", "axis": null},
  "color": {"field": "series", "type": "nominal", "legend": null}
 }},
{"data": {"name": "bars"}, "transform": [{"filter": {"field": "level", "equal": "Medium"}}],
 "mark": {"type": "bar", "stroke": "black", "strokeWidth": 1},
 "encoding": {
  "x": {"field": "pos", "type": "ordinal", "axis": {"orient": "top", "values": [1,2,3,4,5,6,7,8,9,10,11,12,13,14,15,16,17,18,19,20,21,22,23,24,25,26], "bandPosition": 0.5, "labels": false, "tickSize": -9, "tickColor": "black", "title": null}},
  "xOffset": {"field": "series", "type": "nominal", "scale": {"domain": ["LS_GH","TS_GH","TS_DH","LS_DH"], "paddingInner": 0, "paddingOuter": 0.84}},
  "y": {"field": "secs", "type": "quantitative", "axis": {"orient": "right", "values": [0,1000,2000,3000,4000,5000], "labels": false, "tickSize": -9, "tickColor": "black", "title": null}},
  "color": {"field": "series", "type": "nominal", "legend": null}
 }}
]
},
{
"width": 1090, "height": 381,
"title": {"text": "High Energy Level", "anchor": "start", "frame": "group", "fontSize": 20, "fontWeight": "bold", "color": "black", "baseline": "alphabetic", "offset": -65.5, "dx": 25.7},
"resolve": {"axis": {"x": "independent", "y": "independent"}},
"layer": [
{"data": {"name": "avg"}, "transform": [{"filter": {"field": "level", "equal": "High"}}],
 "mark": {"type": "line", "strokeWidth": 1.5},
 "encoding": {
  "x": {"field": "pos", "type": "ordinal", "scale": {"type": "band", "domain": [1,2,3,4,5,6,7,8,9,10,11,12,13,14,15,16,17,18,19,20,21,22,23,24,25,26], "paddingInner": 0, "paddingOuter": 0.5},
   "axis": {"orient": "bottom", "values": [1,2,3,4,5,6,7,8,9,10,11,12,13,14,15,16,17,18,19,20,21,22,23,24,25,26], "bandPosition": 0.5, "labelExpr": "indexof([1,10,19], datum.value) >= 0 ? '4x4' : indexof([5,14,23], datum.value) >= 0 ? '8x8' : indexof([8,17,26], datum.value) >= 0 ? '15x15' : ''", "labelFontSize": 21, "labelColor": "black", "labelBaseline": "alphabetic", "labelPadding": 35, "labelOverlap": false, "labelAngle": 0, "tickSize": -9, "tickColor": "black", "tickWidth": 1, "title": "Low Budget\u00a0\u00a0\u00a0\u00a0\u00a0\u00a0\u00a0\u00a0\u00a0\u00a0\u00a0\u00a0\u00a0\u00a0\u00a0\u00a0\u00a0\u00a0\u00a0\u00a0\u00a0\u00a0\u00a0\u00a0\u00a0\u00a0\u00a0\u00a0\u00a0\u00a0\u00a0\u00a0\u00a0\u00a0\u00a0\u00a0\u00a0\u00a0Medium Budget\u00a0\u00a0\u00a0\u00a0\u00a0\u00a0\u00a0\u00a0\u00a0\u00a0\u00a0\u00a0\u00a0\u00a0\u00a0\u00a0\u00a0\u00a0\u00a0\u00a0\u00a0\u00a0\u00a0\u00a0\u00a0\u00a0\u00a0\u00a0\u00a0\u00a0\u00a0\u00a0\u00a0\u00a0\u00a0\u00a0\u00a0\u00a0High Budget", "titleFontSize": 21, "titleFontWeight": "normal", "titleColor": "black", "titlePadding": 5}},
  "y": {"field": "secs", "type": "quantitative", "scale": {"domain": [0, 8000], "nice": false},
   "axis": {"orient": "left", "values": [0,1000,2000,3000,4000,5000,6000,7000,8000], "format": "d", "labelFontSize": 21, "labelColor": "black", "labelPadding": 13.7, "tickSize": -9, "tickColor": "black", "title": "CPU Time (secs)", "titleFontSize": 21, "titleFontWeight": "normal", "titleColor": "black", "titlePadding": 9}},
  "color": {"field": "series", "type": "nominal",
   "scale": {"domain": ["Average LS_GH","Average TS_GH","Average LS_DH","Average TS_DH","LS_DH","TS_DH","TS_GH","LS_GH"], "range": ["#ff0000","#00ff00","#bf00bf","#0000ff","#bf00bf","#0000ff","#00ff00","#ff0000"]},
   "legend": null}
 }},
{"data": {"name": "avg"}, "transform": [{"filter": {"field": "level", "equal": "High"}}],
 "mark": {"type": "point", "filled": true, "size": 30, "opacity": 1, "shape": "circle"},
 "encoding": {
  "x": {"field": "pos", "type": "ordinal", "axis": null},
  "y": {"field": "secs", "type": "quantitative", "axis": null},
  "color": {"field": "series", "type": "nominal", "legend": null}
 }},
{"data": {"name": "bars"}, "transform": [{"filter": {"field": "level", "equal": "High"}}],
 "mark": {"type": "bar", "stroke": "black", "strokeWidth": 1},
 "encoding": {
  "x": {"field": "pos", "type": "ordinal", "axis": {"orient": "top", "values": [1,2,3,4,5,6,7,8,9,10,11,12,13,14,15,16,17,18,19,20,21,22,23,24,25,26], "bandPosition": 0.5, "labels": false, "tickSize": -9, "tickColor": "black", "title": null}},
  "xOffset": {"field": "series", "type": "nominal", "scale": {"domain": ["LS_GH","TS_GH","TS_DH","LS_DH"], "paddingInner": 0, "paddingOuter": 0.84}},
  "y": {"field": "secs", "type": "quantitative", "axis": {"orient": "right", "values": [0,1000,2000,3000,4000,5000,6000,7000,8000], "labels": false, "tickSize": -9, "tickColor": "black", "title": null}},
  "color": {"field": "series", "type": "nominal", "legend": null}
 }}
]
}
]
}
